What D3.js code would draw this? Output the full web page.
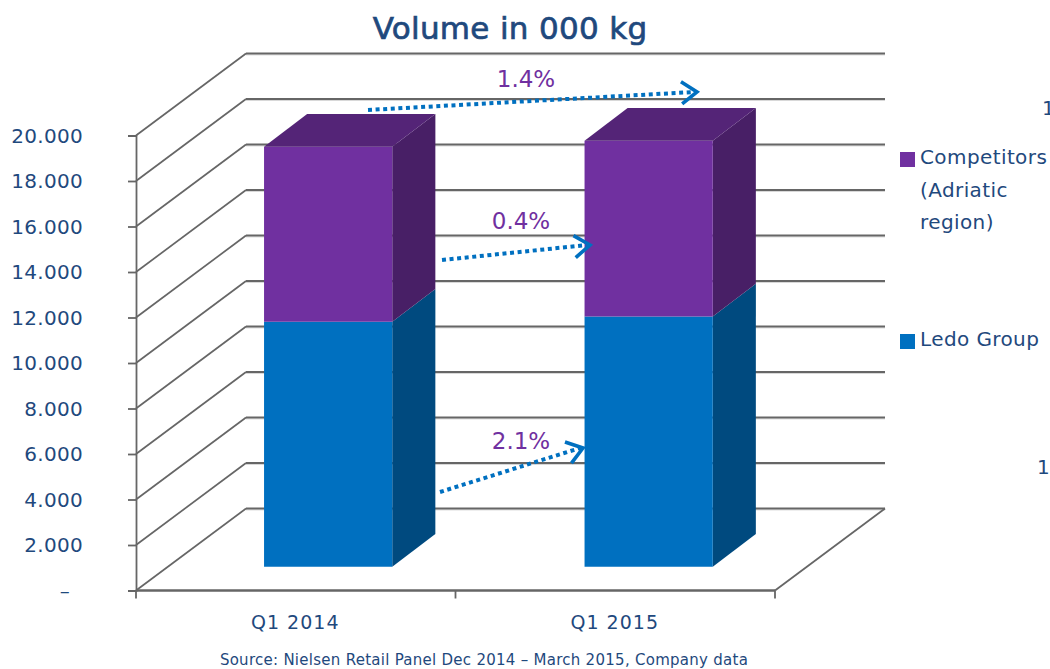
<!DOCTYPE html>
<html><head><meta charset="utf-8">
<script src="https://cdn.jsdelivr.net/npm/d3@7"></script>
<style>html,body{margin:0;padding:0;background:#fff}svg{display:block}text{font-family:"DejaVu Sans",sans-serif}</style>
</head><body><svg id="c" width="1050" height="669"></svg>
<script>
const categories = ["Q1 2014", "Q1 2015"];
const ledoGroup = [10770, 11000];
const competitors = [7690, 7720];
const yTicks = [0,2000,4000,6000,8000,10000,12000,14000,16000,18000,20000];
const legendLedo = ["Ledo Group"];
const legendCompetitors = ["Competitors", "(Adriatic", "region)"];
const growthLabels = ["1.4%", "0.4%", "2.1%"];

const TEXT="#1F497D", GRID="#666666", SHADOW="#d4d4d4", PURPLE="#7030A0", BLUE="#0070C0";
const svg=d3.select("#c");
const y=d3.scaleLinear().domain([0,20000]).range([590.5,135.5]);
const x=d3.scaleBand().domain(categories).range([136,777]).paddingInner(0.6).paddingOuter(0.3);
const DX=110, DY=82, F=0.29, B=0.69;
const P=(px,v,t)=>[px+DX*t, y(v)-DY*t];
const Bk=(px,v)=>[px+DX*B-0.9, y(v)-DY*B];
const line=d3.line();

// gridlines along the side and back walls
const grid=svg.append("g").attr("fill","none");
yTicks.forEach(v=>{
  const a=P(136,v,0), b=P(136,v,1), c=P(775,v,1);
  grid.append("path").attr("d",line([[b[0],b[1]+1.4],[c[0],c[1]+1.4]])).attr("stroke",SHADOW).attr("stroke-width",1);
  grid.append("path").attr("d",line([a,b])).attr("stroke",GRID).attr("stroke-width",1.7);
  grid.append("path").attr("d",line([b,c])).attr("stroke",GRID).attr("stroke-width",2.2);
});
// floor edge
grid.append("path").attr("d",line([P(775,0,0),P(775,0,1)])).attr("stroke",GRID).attr("stroke-width",1.8);

// axes
const yAxis=d3.axisLeft(y).tickValues(yTicks).tickSize(8).tickPadding(0)
  .tickFormat(d=>d===0?"–":d3.format(",")(d).replace(/,/g,"."));
const yg=svg.append("g").attr("transform","translate(136,0)").call(yAxis);
yg.select(".domain").attr("stroke",GRID).attr("stroke-width",1.8);
yg.selectAll(".tick line").attr("stroke",GRID).attr("stroke-width",1.8);
yg.selectAll(".tick text").attr("x",d=>d===0?-66:-53).attr("dy","0.34em").attr("fill",TEXT)
  .style("font-size","20px").style("letter-spacing","0.3px");

const xEdges=[136,455.5,775];
const xg=svg.append("g").attr("transform",`translate(0,${y(0)})`);
xg.append("path").attr("d",line([[136,0],[775,0]])).attr("stroke",GRID).attr("stroke-width",2.4);
xg.selectAll("line").data(xEdges).join("line").attr("x1",d=>d).attr("x2",d=>d).attr("y1",0).attr("y2",8)
  .attr("stroke",GRID).attr("stroke-width",1.8);
xg.selectAll("text").data(categories).join("text")
  .attr("x",(d,i)=>(xEdges[i]+xEdges[i+1])/2-0.5).attr("y",38.5).attr("text-anchor","middle").attr("fill",TEXT)
  .style("font-size","19px").style("letter-spacing","1px").text(d=>d);

// stacked 3D bars
const stacked=categories.map((c,i)=>({c,segs:[
  {from:0,to:ledoGroup[i],front:BLUE,side:"#004A7F",top:"#00568F"},
  {from:ledoGroup[i],to:ledoGroup[i]+competitors[i],front:PURPLE,side:"#481F66",top:"#542477"}
]}));
const bars=svg.append("g");
stacked.forEach(s=>{
  const x0=x(s.c), x1=x0+x.bandwidth();
  s.segs.forEach(g=>{
    bars.append("path").attr("fill",g.side).attr("d",line([P(x1,g.from,F),Bk(x1,g.from),Bk(x1,g.to),P(x1,g.to,F)])+"Z");
    bars.append("path").attr("fill",g.front).attr("d",line([P(x0,g.from,F),P(x1,g.from,F),P(x1,g.to,F),P(x0,g.to,F)])+"Z");
  });
  const t=s.segs[1];
  bars.append("path").attr("fill",t.top).attr("d",line([P(x0,t.to,F),P(x1,t.to,F),Bk(x1,t.to),Bk(x0,t.to)])+"Z");
});

// growth arrows
const arrowLayout=[
  {label:growthLabels[0],lx:526,ly:87,from:[368,110],to:[697,92]},
  {label:growthLabels[1],lx:521,ly:229,from:[442,260],to:[590,245]},
  {label:growthLabels[2],lx:521,ly:449,from:[440,492],to:[583,448]}
];
const an=svg.append("g");
arrowLayout.forEach(a=>{
  an.append("line").attr("x1",a.from[0]).attr("y1",a.from[1]).attr("x2",a.to[0]-3).attr("y2",a.to[1])
    .attr("stroke",BLUE).attr("stroke-width",4).attr("stroke-dasharray","4 3.6");
  const ang=Math.atan2(a.to[1]-a.from[1],a.to[0]-a.from[0]), L=19, S=0.62;
  const h=s=>[a.to[0]-L*Math.cos(ang+s*S),a.to[1]-L*Math.sin(ang+s*S)];
  an.append("path").attr("d",line([h(1),a.to,h(-1)])).attr("fill","none").attr("stroke",BLUE).attr("stroke-width",3.6);
  an.append("text").attr("x",a.lx).attr("y",a.ly).attr("text-anchor","middle").attr("fill",PURPLE)
    .style("font-size","23px").text(a.label);
});

// legend
const lg=svg.append("g").attr("fill",TEXT).style("font-size","20px").style("letter-spacing","0.4px");
lg.append("rect").attr("x",900).attr("y",152).attr("width",15).attr("height",15).attr("fill",PURPLE);
lg.append("rect").attr("x",900).attr("y",334).attr("width",15).attr("height",15).attr("fill",BLUE);
legendCompetitors.forEach((t,i)=>lg.append("text").attr("x",920).attr("y",164+i*32.7).text(t));
lg.append("text").attr("x",920).attr("y",346).text(legendLedo[0]);

// title, source, clipped stray glyphs
svg.append("text").attr("x",510).attr("y",39).attr("text-anchor","middle").attr("fill",TEXT)
  .attr("stroke",TEXT).attr("stroke-width",0.7)
  .style("font-size","31px").style("letter-spacing","0.3px").text("Volume in 000 kg");
svg.append("text").attr("x",484).attr("y",665).attr("text-anchor","middle").attr("fill",TEXT)
  .style("font-size","15px").style("letter-spacing","0.27px").text("Source: Nielsen Retail Panel Dec 2014 – March 2015, Company data");
svg.append("text").attr("x",1042).attr("y",115).attr("fill",TEXT).style("font-size","20px").text("1");
svg.append("text").attr("x",1037).attr("y",474).attr("fill",TEXT).style("font-size","20px").text("1");
</script></body></html>
